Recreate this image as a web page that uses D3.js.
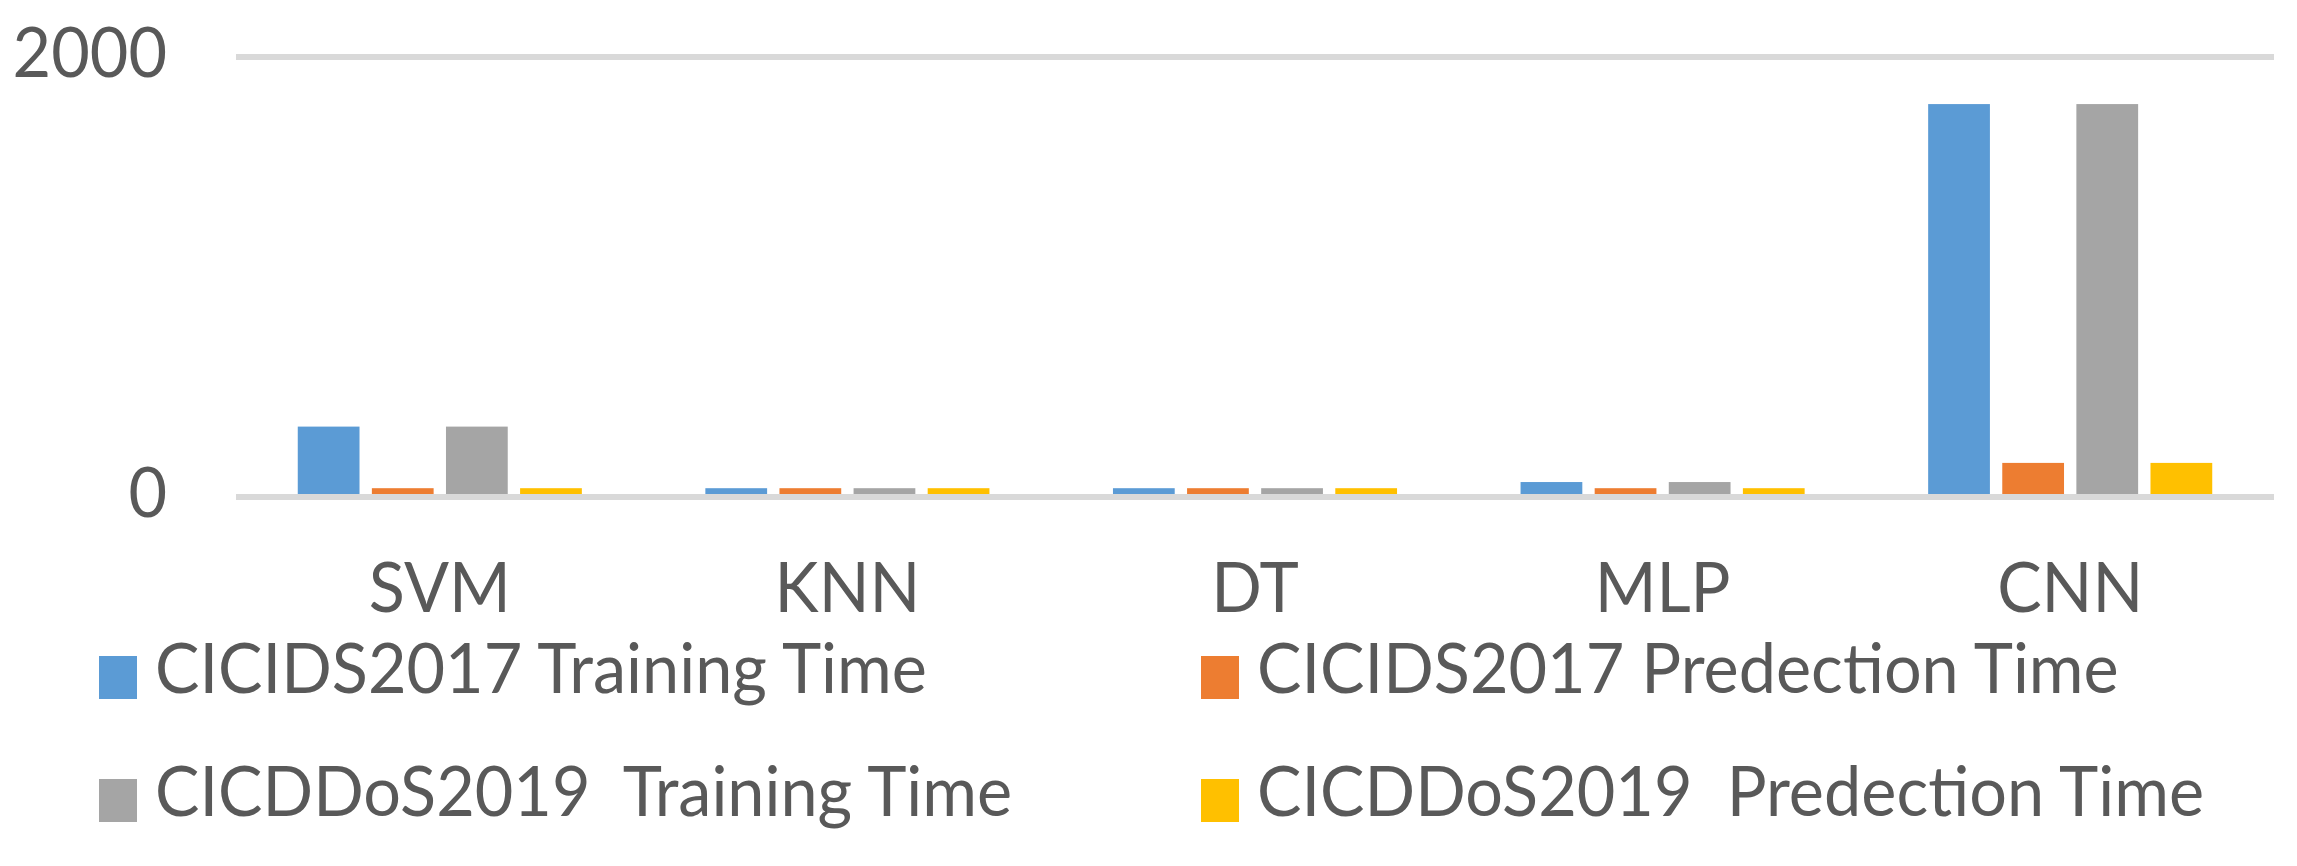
<!DOCTYPE html>
<html>
<head>
<meta charset="utf-8">
<script src="https://cdn.jsdelivr.net/npm/d3@7"></script>
<style>
  html, body { margin: 0; padding: 0; background: #fff; }
  svg text { font-family: Lato, "Liberation Sans", sans-serif; fill: #595959; white-space: pre; }
</style>
</head>
<body>
<svg id="chart"></svg>
<script>
// chart values
const categories = ['SVM', 'KNN', 'DT', 'MLP', 'CNN'];
const seriesNames = [
  'CICIDS2017 Training Time',
  'CICIDS2017 Predection Time',
  'CICDDoS2019  Training Time',
  'CICDDoS2019  Predection Time'
];
const trainingTime2017 = [320, 40, 40, 68, 1786];
const predictionTime2017 = [40, 40, 40, 40, 155];
const trainingTime2019 = [320, 40, 40, 68, 1786];
const predictionTime2019 = [40, 40, 40, 40, 155];
const yTicks = [0, 2000];

const seriesColors = ['#5B9BD5', '#ED7D31', '#A5A5A5', '#FFC000'];
const seriesValues = [trainingTime2017, predictionTime2017, trainingTime2019, predictionTime2019];

const width = 2297;
const height = 866;
const plot = { left: 236, right: 2274, top: 57, bottom: 497 };
const fontSize = 70;

const svg = d3.select('#chart')
  .attr('width', width)
  .attr('height', height);

// one row per category, one column per series
const rows = categories.map((cat, i) => ({
  cat,
  values: seriesValues.map((vals, s) => ({ s, v: vals[i] }))
}));

const x = d3.scaleBand()
  .domain(categories)
  .range([plot.left, plot.right]);

// excel-like: gap width 200%, overlap -20%
const barW = x.bandwidth() / 6.6;
const xInner = d3.scaleBand()
  .domain(d3.range(seriesNames.length))
  .range([barW, x.bandwidth() - barW])
  .paddingInner(1 / 6);

const y = d3.scaleLinear()
  .domain([0, 2000])
  .range([plot.bottom, plot.top]);

// bars
svg.append('g')
  .attr('class', 'bars')
  .selectAll('g')
  .data(rows)
  .join('g')
  .attr('transform', d => `translate(${x(d.cat)},0)`)
  .selectAll('rect')
  .data(d => d.values)
  .join('rect')
  .attr('x', d => xInner(d.s))
  .attr('width', xInner.bandwidth())
  .attr('y', d => y(d.v))
  .attr('height', d => y(0) - y(d.v))
  .attr('fill', d => seriesColors[d.s]);

// gridlines sit over the bar bottoms, like in the source
svg.append('g')
  .attr('class', 'grid')
  .selectAll('line')
  .data(yTicks)
  .join('line')
  .attr('x1', plot.left)
  .attr('x2', plot.right)
  .attr('y1', d => y(d))
  .attr('y2', d => y(d))
  .attr('stroke', '#d9d9d9')
  .attr('stroke-width', 6);

// the source text is narrower than any installed font, squeeze it a bit
const probe = svg.append('text')
  .attr('font-size', fontSize)
  .text(seriesNames[0]);
const sx = 772 / probe.node().getComputedTextLength();
probe.remove();

// y axis
const yAxis = svg.append('g')
  .attr('transform', `translate(${plot.left},0)`)
  .call(d3.axisLeft(y).tickValues(yTicks).tickSize(0).tickFormat(d3.format('d')));
yAxis.select('.domain').remove();
yAxis.selectAll('text')
  .attr('font-size', fontSize)
  .attr('x', null)
  .attr('dy', null)
  .attr('y', 19)
  .attr('transform', `translate(-69,0) scale(${sx},1)`)
  .attr('text-anchor', 'end');

// x axis labels
const xAxis = svg.append('g')
  .attr('transform', `translate(0,${plot.bottom})`)
  .call(d3.axisBottom(x).tickSize(0));
xAxis.select('.domain').remove();
xAxis.selectAll('text')
  .attr('font-size', fontSize)
  .attr('dy', null)
  .attr('y', 115)
  .attr('transform', `scale(${sx},1)`);

// legend, two columns by two rows
const legendCols = [99, 1201];
const legendRows = [656, 779];
const legend = svg.append('g')
  .attr('class', 'legend')
  .selectAll('g')
  .data(seriesNames)
  .join('g')
  .attr('transform', (d, i) => `translate(${legendCols[i % 2]},${legendRows[Math.floor(i / 2)]})`);

legend.append('rect')
  .attr('width', 38)
  .attr('height', 43)
  .attr('fill', (d, i) => seriesColors[i]);

legend.append('text')
  .attr('font-size', fontSize)
  .attr('transform', `translate(56,37) scale(${sx},1)`)
  .text(d => d);
</script>
</body>
</html>
